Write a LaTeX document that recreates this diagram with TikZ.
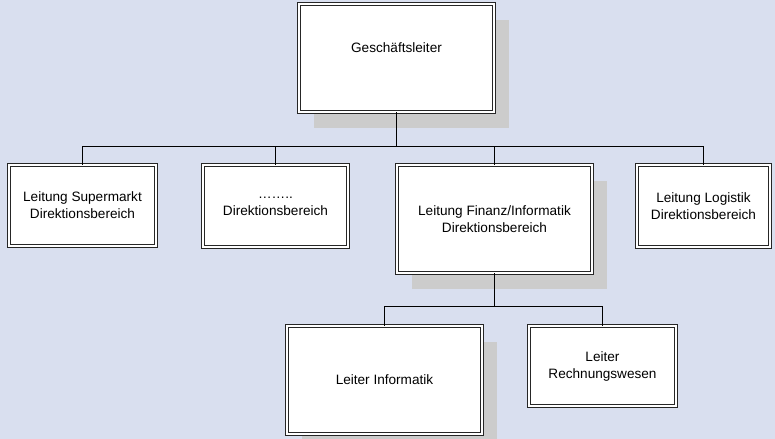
\documentclass[tikz,border=0pt]{standalone}
\usepackage{fontspec}
\setmainfont{Liberation Sans}
\usetikzlibrary{shadows}
\definecolor{bgcol}{HTML}{D9DFEF}
\definecolor{shadowcol}{HTML}{CCCCCC}
\begin{document}
\begin{tikzpicture}[x=0.75pt,y=-0.75pt,
  boxfont/.style={font=\fontsize{10.2}{12.75}\selectfont},
  orgbox/.style 2 args={draw=black!85, double=white, double distance=1.3pt, line width=0.65pt,
    fill=white, rectangle, inner sep=0pt, outer sep=0pt, align=center,
    minimum width=#1*0.75pt, minimum height=#2*0.75pt, boxfont},
  shadowed/.style={drop shadow={shadow xshift=11.25pt, shadow yshift=-12pt, fill=shadowcol, opacity=1}},
  conn/.style={draw=black, line width=0.75pt}]
\fill[bgcol] (0,0) rectangle (775,439);
\useasboundingbox (0,0) rectangle (775,439);

\node[orgbox={195}{108}, shadowed,
  label={[boxfont, yshift=7.5pt]center:Geschäftsleiter}] (top) at (396.5,58) {};
\node[orgbox={147}{81}] (b1) at (82.5,205.5) {Leitung Supermarkt\\Direktionsbereich};
\node[orgbox={145}{82}] (b2) at (275.5,206) {……..\\Direktionsbereich};
\node[orgbox={195}{108}, shadowed] (b3) at (494.5,219) {Leitung Finanz/Informatik\\Direktionsbereich};
\node[orgbox={133}{82}] (b4) at (703.5,206) {Leitung Logistik\\Direktionsbereich};
\node[orgbox={195}{108}, shadowed] (b5) at (384.5,380) {Leiter Informatik};
\node[orgbox={147}{80}] (b6) at (602.5,366) {Leiter\\Rechnungswesen};

\coordinate (bus1) at (396.5,146);
\coordinate (bus2) at (494.5,306);

\draw[conn] (top.south) -- (bus1);
\draw[conn] (b1.north) |- (bus1);
\draw[conn] (b2.north) |- (bus1);
\draw[conn] (b3.north) |- (bus1);
\draw[conn] (b4.north) |- (bus1);
\draw[conn] (b3.south) -- (bus2);
\draw[conn] (b5.north) |- (bus2);
\draw[conn] (b6.north) |- (bus2);
\end{tikzpicture}
\end{document}
